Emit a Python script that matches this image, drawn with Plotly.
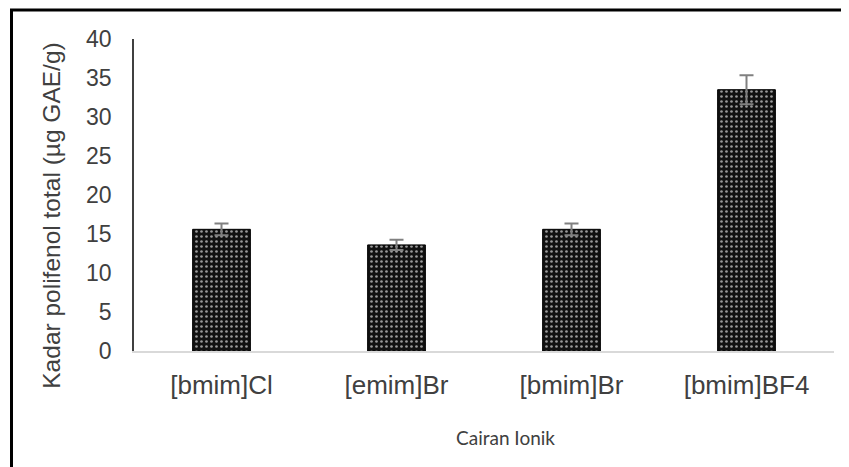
import plotly.graph_objects as go

categories = ["[bmim]Cl", "[emim]Br", "[bmim]Br", "[bmim]BF4"]
values = [15.6, 13.6, 15.6, 33.5]
errors = [0.75, 0.65, 0.75, 1.85]
y_ticks = [0, 5, 10, 15, 20, 25, 30, 35, 40]

# page offset (browser body margin)
O = 8
W, H = 849 - O, 467 - O
L, R, T, B = 134 - O, 15, 38.5 - O, H - (351 - O)
PW, PH = W - L - R, H - T - B

def px(p):
    return (p - O - L) / PW

def py(q):
    return (H - B - (q - O)) / PH

fig = go.Figure()
fig.add_trace(go.Bar(
    x=categories, y=values,
    marker=dict(
        color="#111111",
        line=dict(color="#000000", width=1),
        pattern=dict(shape=".", bgcolor="#111111", fgcolor="#9a9a9a",
                     size=5, solidity=0.22, fillmode="replace"),
    ),
    error_y=dict(type="data", array=errors, visible=True,
                 color="#808080", thickness=2, width=7),
    width=0.33,
))

fig.update_layout(
    width=W, height=H,
    margin=dict(l=L, r=R, t=T, b=B),
    paper_bgcolor="white", plot_bgcolor="white",
    showlegend=False,
    font=dict(family="Liberation Sans, Arial", color="#404040"),
    xaxis=dict(
        range=[-0.5, 3.5], showgrid=False, zeroline=False,
        showline=True, linecolor="#d9d9d9", linewidth=1.5,
        ticks="", ticklabelstandoff=10,
        tickfont=dict(size=26, color="#404040"),
    ),
    yaxis=dict(
        range=[0, 40], tickvals=y_ticks, showgrid=False, zeroline=False,
        showline=True, linecolor="#404040", linewidth=1.5,
        ticks="", ticklabelstandoff=16,
        tickfont=dict(size=23, color="#404040"),
    ),
    shapes=[dict(type="rect", xref="paper", yref="paper",
                 x0=px(11.5), x1=px(870), y0=py(9.5), y1=py(490),
                 line=dict(color="black", width=3), fillcolor="rgba(0,0,0,0)",
                 layer="above")],
    annotations=[
        dict(text="Kadar polifenol total (µg GAE/g)", xref="paper", yref="paper",
             x=px(52), y=py(215.5), textangle=-90, showarrow=False,
             xanchor="center", yanchor="middle",
             font=dict(size=24.5, color="#404040", family="Liberation Sans, Arial")),
        dict(text="Cairan Ionik", xref="paper", yref="paper",
             x=px(505), y=py(438), showarrow=False,
             xanchor="center", yanchor="middle",
             font=dict(size=19, color="#404040", family="Lato, Open Sans")),
    ],
)

fig.write_html("out.html")
